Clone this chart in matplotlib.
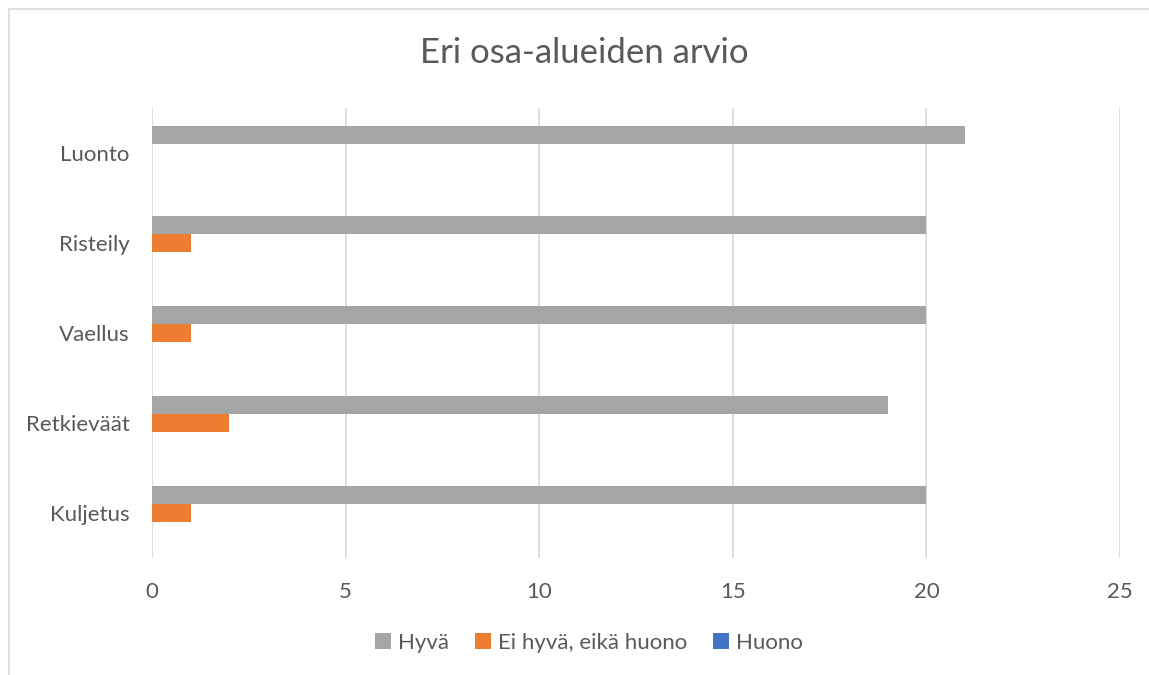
import matplotlib.pyplot as plt
import numpy as np
from matplotlib.patches import Rectangle

# data
categories = ["Kuljetus", "Retkieväät", "Vaellus", "Risteily", "Luonto"]
hyva = [20, 19, 20, 20, 21]
ei_hyva = [1, 2, 1, 1, 0]
huono = [0, 0, 0, 0, 0]
series = ["Hyvä", "Ei hyvä, eikä huono", "Huono"]
colors = ["#A5A5A5", "#ED7D31", "#4472C4"]
xticks = [0, 5, 10, 15, 20, 25]

plt.rcParams['font.family'] = ['Lato', 'DejaVu Sans']
txt = "#595959"

W, H = 1149, 675
fig = plt.figure(figsize=(W / 100, H / 100), dpi=100)
ax = fig.add_axes([152 / W, (H - 558) / H, (1120 - 152) / W, 450 / H])

# chart border (only top/left visible in reference)
fig.patches.append(Rectangle((9 / W, -0.1), 1.2, (H - 9) / H + 0.1, transform=fig.transFigure,
                             fill=False, edgecolor="#D9D9D9", linewidth=1.2))

y = np.arange(len(categories))
h = 0.2
ax.barh(y + h, hyva, height=h, color=colors[0], label=series[0], zorder=3)
ax.barh(y, ei_hyva, height=h, color=colors[1], label=series[1], zorder=3)
ax.barh(y - h, huono, height=h, color=colors[2], label=series[2], zorder=3)

ax.set_xlim(0, 25)
ax.set_ylim(-0.5, len(categories) - 0.5)
ax.set_xticks(xticks)
ax.set_yticks(y)
ax.set_yticklabels(categories)
ax.grid(axis="x", color="#D9D9D9", linewidth=1.2, zorder=0)
for s in ax.spines.values():
    s.set_visible(False)
ax.tick_params(length=0, colors=txt, labelsize=16)
ax.tick_params(axis="x", pad=17)
ax.tick_params(axis="y", pad=16)

fig.text(584 / W, 1 - 53 / H, "Eri osa-alueiden arvio", ha="center", va="center",
         fontsize=25, color=txt)

leg = fig.legend(loc="center", bbox_to_anchor=(589 / W, 1 - 643 / H), ncol=3, frameon=False,
                 fontsize=16, handlelength=0.7, handleheight=0.7, handletextpad=0.3,
                 columnspacing=1.2)
for t in leg.get_texts():
    t.set_color(txt)

fig.savefig("out.png", dpi=100)
